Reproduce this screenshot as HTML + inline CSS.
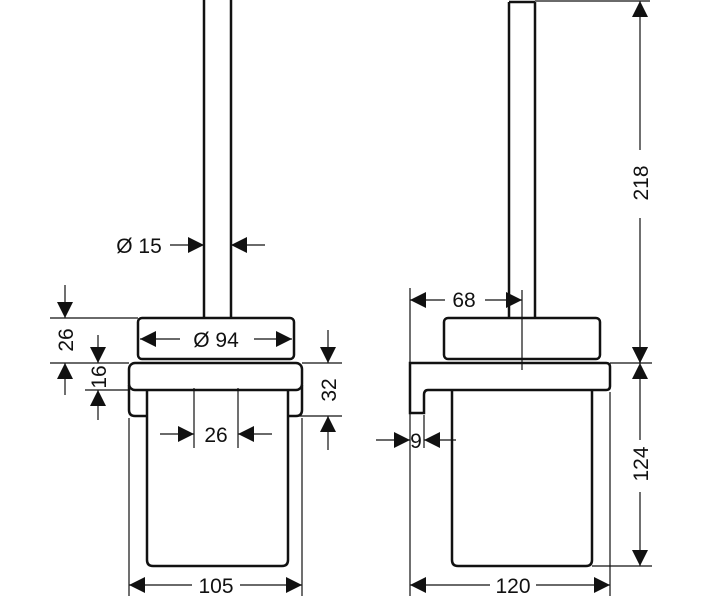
<!DOCTYPE html>
<html><head><style>body{margin:0;background:#fff}svg{display:block}</style></head><body>
<svg width="704" height="600" viewBox="0 0 704 600" xmlns="http://www.w3.org/2000/svg" font-family="Liberation Sans, sans-serif" font-size="21" fill="none" stroke="#111">
<defs>
<marker id="a" viewBox="0 0 10 10" refX="10" refY="5" markerWidth="16" markerHeight="16" markerUnits="userSpaceOnUse" orient="auto"><path d="M0,0L10,5L0,10z" fill="#111" stroke="none"/></marker>
</defs>
<g stroke-width="2.5">
<path d="M204,0V318M231,0V318"/>
<rect x="138" y="318" width="156" height="41" rx="4"/>
<rect x="129" y="363" width="173" height="27" rx="6"/>
<path d="M129,385V410Q129,416 135,416H146M302,385V410Q302,416 296,416H287"/>
<path d="M147,390V560Q147,566 153,566H282Q288,566 288,560V390"/>
<path d="M509,2V318M535,2V318M509,2H535"/>
<rect x="444" y="318" width="156" height="41" rx="4"/>
<path d="M410,363H606Q610,363 610,367V386Q610,390 606,390H428Q424,390 424,395V413H410Z"/>
<path d="M452,390V560Q452,566 458,566H586Q592,566 592,560V390"/>
</g>
<g stroke-width="1.2">
<path d="M50,318H138M50,363H129M85,390H129"/>
<path d="M65,285V318" marker-end="url(#a)"/><path d="M65,395V363" marker-end="url(#a)"/>
<path d="M98,335V363" marker-end="url(#a)"/><path d="M98,420V390" marker-end="url(#a)"/>
<path d="M302,363H342M296,416H342"/>
<path d="M328,330V363" marker-end="url(#a)"/><path d="M328,450V416" marker-end="url(#a)"/>
<path d="M180,339H140" marker-end="url(#a)"/><path d="M254,339H292" marker-end="url(#a)"/>
<path d="M170,245H204" marker-end="url(#a)"/><path d="M265,245H231" marker-end="url(#a)"/>
<path d="M194,388V448M238,388V448"/>
<path d="M160,434H194" marker-end="url(#a)"/><path d="M272,434H238" marker-end="url(#a)"/>
<path d="M129,418V596M302,418V596"/>
<path d="M192,585H129" marker-end="url(#a)"/><path d="M240,585H302" marker-end="url(#a)"/>
<path d="M410,288V440M522,290V370"/>
<path d="M445,300H410" marker-end="url(#a)"/><path d="M485,300H522" marker-end="url(#a)"/>
<path d="M376,440H410" marker-end="url(#a)"/><path d="M456,440H424" marker-end="url(#a)"/>
<path d="M424,415V448"/>
<path d="M410,440V596M610,392V596"/>
<path d="M490,585H410" marker-end="url(#a)"/><path d="M536,585H610" marker-end="url(#a)"/>
<path d="M535,1H650M610,363H652M592,566H652"/>
<path d="M640,150V1" marker-end="url(#a)"/><path d="M640,218V363" marker-end="url(#a)"/>
<path d="M640,330V363" marker-end="url(#a)"/><path d="M640,440V363" marker-end="url(#a)"/>
<path d="M640,492V566" marker-end="url(#a)"/>
</g>
<g fill="#111" stroke="none" text-anchor="middle">
<text x="216" y="347">Ø 94</text>
<text x="139" y="253">Ø 15</text>
<text x="216" y="442">26</text>
<text x="216" y="593">105</text>
<text x="464" y="307">68</text>
<text x="416" y="448">9</text>
<text x="513" y="593">120</text>
<text transform="translate(73,340) rotate(-90)">26</text>
<text transform="translate(106,377) rotate(-90)">16</text>
<text transform="translate(336,390) rotate(-90)">32</text>
<text transform="translate(648,183) rotate(-90)">218</text>
<text transform="translate(648,464) rotate(-90)">124</text>
</g>
</svg>
</body></html>
